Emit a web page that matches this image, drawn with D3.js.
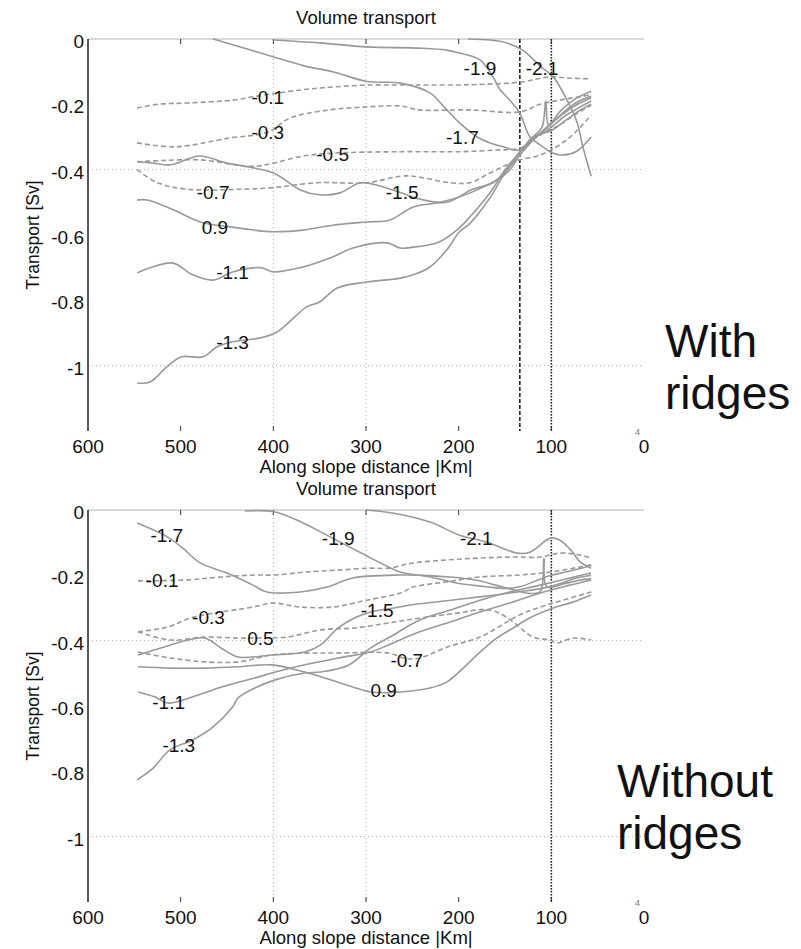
<!DOCTYPE html>
<html>
<head>
<meta charset="utf-8">
<script src="https://cdn.jsdelivr.net/npm/d3@7"></script>
<style>
  body { margin: 0; background: #fff; }
  svg { display: block; }
  text { font-family: "Liberation Sans", Arial, Helvetica, sans-serif; fill: #111; }
</style>
</head>
<body>
<svg id="chart" width="801" height="949"></svg>
<script>
// axis ticks
xTicks = [600, 500, 400, 300, 200, 100, 0];
yTicks = [0, -0.2, -0.4, -0.6, -0.8, -1];
yTickLabels = ["0", "-0.2", "-0.4", "-0.6", "-0.8", "-1"];
xGrid = [400, 300, 100];
yGrid = [-0.4, -1];

// ---- with ridges: [km, Sv]
top01 = [[547,-0.211],[522,-0.199],[493,-0.196],[443,-0.187],[422,-0.177],[371,-0.156],[336,-0.147],[299,-0.141],[263,-0.141],[242,-0.141],[188,-0.140],[134,-0.132],[101,-0.116],[80,-0.12],[57,-0.122]];
top03 = [[547,-0.318],[506,-0.33],[447,-0.303],[406,-0.285],[382,-0.242],[339,-0.217],[300,-0.208],[263,-0.205],[242,-0.217],[188,-0.217],[134,-0.223],[112,-0.20],[91,-0.187],[57,-0.171]];
top05 = [[547,-0.376],[520,-0.372],[479,-0.37],[422,-0.39],[400,-0.38],[371,-0.36],[339,-0.35],[263,-0.345],[200,-0.345],[160,-0.34],[134,-0.334],[112,-0.294],[91,-0.263],[75,-0.233],[57,-0.202]];
top07 = [[547,-0.40],[525,-0.44],[493,-0.46],[436,-0.46],[400,-0.455],[353,-0.44],[299,-0.44],[263,-0.42],[249,-0.42],[209,-0.44],[188,-0.44],[166,-0.41],[148,-0.385],[134,-0.37],[112,-0.355],[91,-0.324],[75,-0.288],[57,-0.233]];
top09 = [[547,-0.493],[536,-0.493],[508,-0.523],[479,-0.56],[447,-0.575],[400,-0.59],[368,-0.585],[336,-0.57],[299,-0.56],[274,-0.554],[249,-0.514],[220,-0.50],[185,-0.468],[148,-0.41],[134,-0.355],[120,-0.31],[105,-0.27],[90,-0.235],[75,-0.205],[57,-0.18]];
top11 = [[547,-0.716],[533,-0.70],[508,-0.686],[487,-0.722],[465,-0.738],[444,-0.713],[414,-0.70],[400,-0.713],[371,-0.70],[336,-0.667],[314,-0.64],[277,-0.624],[263,-0.64],[249,-0.637],[223,-0.624],[202,-0.585],[188,-0.545],[166,-0.47],[150,-0.40],[134,-0.346],[120,-0.30],[110,-0.27],[106,-0.19],[103,-0.262],[90,-0.22],[75,-0.185],[57,-0.16]];
top13 = [[547,-1.053],[533,-1.05],[515,-1.004],[499,-0.973],[476,-0.973],[461,-0.943],[444,-0.927],[414,-0.915],[396,-0.897],[364,-0.82],[350,-0.805],[331,-0.762],[299,-0.744],[263,-0.732],[249,-0.722],[231,-0.698],[213,-0.646],[199,-0.59],[188,-0.565],[166,-0.485],[150,-0.41],[134,-0.355],[120,-0.31],[100,-0.26],[85,-0.22],[70,-0.19],[57,-0.175]];
top15 = [[547,-0.375],[530,-0.38],[510,-0.385],[480,-0.358],[450,-0.38],[400,-0.41],[371,-0.462],[350,-0.477],[328,-0.471],[306,-0.44],[285,-0.45],[263,-0.47],[242,-0.49],[213,-0.50],[185,-0.46],[163,-0.44],[148,-0.40],[134,-0.346],[120,-0.305],[100,-0.27],[85,-0.235],[70,-0.21],[57,-0.19]];
top17 = [[465,0],[431,-0.028],[396,-0.058],[366,-0.083],[336,-0.10],[299,-0.13],[263,-0.135],[231,-0.165],[215,-0.21],[199,-0.257],[180,-0.30],[166,-0.318],[152,-0.33],[134,-0.34],[120,-0.30],[100,-0.28],[85,-0.25],[70,-0.22],[57,-0.2]];
top19 = [[400,-0.003],[350,-0.012],[299,-0.024],[242,-0.028],[213,-0.034],[199,-0.043],[177,-0.064],[163,-0.116],[155,-0.156],[145,-0.187],[134,-0.227],[123,-0.30],[112,-0.324],[101,-0.346],[91,-0.355],[74,-0.346],[57,-0.30]];
top21 = [[190,0],[166,-0.003],[148,-0.012],[131,-0.034],[112,-0.083],[98,-0.116],[83,-0.187],[72,-0.257],[66,-0.33],[57,-0.42]];

topLabels = [["-0.1",406,-0.178],["-0.3",406,-0.285],["-0.5",336,-0.352],["-0.7",465,-0.468],["0.9",463,-0.575],
  ["-1.1",444,-0.713],["-1.3",444,-0.927],["-1.5",261,-0.468],["-1.7",196,-0.30],["-1.9",177,-0.09],["-2.1",110,-0.09]];

// ---- without ridges
bot01 = [[546,-0.217],[492,-0.214],[456,-0.205],[420,-0.199],[398,-0.199],[366,-0.19],[330,-0.184],[298,-0.178],[276,-0.178],[249,-0.162],[213,-0.153],[177,-0.147],[141,-0.144],[112,-0.144],[91,-0.132],[69,-0.138],[57,-0.147]];
bot03 = [[546,-0.373],[514,-0.358],[486,-0.328],[422,-0.297],[400,-0.285],[371,-0.297],[336,-0.297],[299,-0.276],[263,-0.254],[249,-0.236],[213,-0.22],[177,-0.205],[134,-0.199],[101,-0.19],[57,-0.168]];
bot05 = [[546,-0.373],[511,-0.398],[474,-0.389],[438,-0.392],[415,-0.392],[385,-0.389],[349,-0.367],[312,-0.361],[276,-0.346],[240,-0.33],[200,-0.315],[175,-0.305],[159,-0.312],[141,-0.343],[120,-0.389],[101,-0.398],[94,-0.407],[77,-0.392],[57,-0.398]];
bot07 = [[546,-0.435],[511,-0.453],[474,-0.465],[438,-0.465],[402,-0.444],[366,-0.438],[330,-0.438],[276,-0.438],[256,-0.455],[242,-0.453],[213,-0.42],[177,-0.389],[134,-0.321],[105,-0.291],[57,-0.251]];
bot09 = [[546,-0.48],[511,-0.484],[474,-0.484],[438,-0.48],[402,-0.474],[366,-0.496],[330,-0.527],[295,-0.557],[263,-0.557],[231,-0.545],[213,-0.527],[195,-0.484],[177,-0.435],[159,-0.392],[141,-0.361],[123,-0.33],[98,-0.30],[77,-0.282],[57,-0.26]];
bot11 = [[546,-0.557],[528,-0.572],[514,-0.591],[481,-0.566],[456,-0.542],[420,-0.514],[398,-0.496],[366,-0.474],[330,-0.453],[295,-0.435],[276,-0.413],[242,-0.373],[209,-0.343],[177,-0.312],[145,-0.285],[112,-0.254],[80,-0.23],[57,-0.214]];
bot13 = [[547,-0.826],[530,-0.791],[512,-0.735],[487,-0.704],[465,-0.664],[444,-0.603],[438,-0.575],[420,-0.545],[398,-0.52],[366,-0.499],[349,-0.496],[319,-0.475],[295,-0.422],[276,-0.392],[242,-0.337],[209,-0.306],[177,-0.276],[145,-0.251],[112,-0.23],[80,-0.208],[57,-0.193]];
bot15 = [[546,-0.444],[511,-0.413],[492,-0.398],[474,-0.392],[456,-0.423],[438,-0.45],[402,-0.444],[366,-0.435],[349,-0.413],[330,-0.361],[312,-0.33],[295,-0.312],[270,-0.30],[250,-0.29],[220,-0.28],[190,-0.27],[160,-0.26],[134,-0.25],[110,-0.24],[90,-0.225],[75,-0.21],[57,-0.2]];
bot17 = [[547,-0.04],[514,-0.083],[498,-0.116],[479,-0.162],[450,-0.193],[422,-0.23],[407,-0.251],[371,-0.251],[342,-0.236],[314,-0.208],[263,-0.199],[240,-0.2],[210,-0.205],[180,-0.215],[160,-0.23],[140,-0.245],[125,-0.255],[112,-0.25],[108,-0.147],[105,-0.235],[85,-0.225],[70,-0.215],[57,-0.21]];
bot19 = [[431,-0.003],[398,-0.006],[370,-0.037],[349,-0.067],[301,-0.138],[276,-0.174],[263,-0.19],[231,-0.205],[199,-0.225],[170,-0.235],[150,-0.24],[134,-0.235],[115,-0.215],[100,-0.2],[85,-0.19],[70,-0.18],[57,-0.17]];
bot21 = [[300,0],[270,-0.01],[231,-0.037],[199,-0.077],[170,-0.098],[137,-0.132],[123,-0.129],[101,-0.086],[91,-0.092],[77,-0.129],[69,-0.159],[57,-0.178]];

botLabels = [["-1.7",515,-0.077],["-1.9",330,-0.086],["-2.1",181,-0.086],["-0.1",520,-0.214],["-0.3",470,-0.328],
  ["0.5",414,-0.392],["-1.5",288,-0.306],["-0.7",256,-0.459],["0.9",281,-0.551],["-1.1",513,-0.588],["-1.3",502,-0.719]];

let svg = d3.select("#chart");

let left = 88, right = 644, plotH = 392;

let xScale = d3.scaleLinear().domain([600, 0]).range([left, right]);

function drawPanel(y0, solid, dashed, labels, vlines, sideText, sideX, sideY) {
  let yScale = d3.scaleLinear().domain([0, -1.2]).range([y0, y0 + plotH]);
  let g = svg.append("g");

  g.append("text")
    .attr("x", (left + right) / 2).attr("y", y0 - 15)
    .attr("text-anchor", "middle").style("font-size", "18.5px")
    .text("Volume transport");

  // grid
  g.selectAll(".vgrid").data(xGrid).enter().append("line")
    .attr("x1", d => xScale(d)).attr("x2", d => xScale(d))
    .attr("y1", y0).attr("y2", y0 + plotH)
    .attr("stroke", "#aaa").attr("stroke-dasharray", "1,3");
  g.selectAll(".hgrid").data(yGrid).enter().append("line")
    .attr("x1", left).attr("x2", right)
    .attr("y1", d => yScale(d)).attr("y2", d => yScale(d))
    .attr("stroke", "#aaa").attr("stroke-dasharray", "1,3");

  // frame: left axis dark, top edge light
  g.append("line").attr("x1", left).attr("x2", right).attr("y1", y0).attr("y2", y0)
    .attr("stroke", "#ccc").attr("stroke-width", 1.5);
  g.append("line").attr("x1", left).attr("x2", left).attr("y1", y0).attr("y2", y0 + plotH)
    .attr("stroke", "#222").attr("stroke-width", 1.5);

  // x ticks top & bottom
  g.selectAll(".xt").data(xTicks.slice(1, -1)).enter().append("path")
    .attr("d", d => "M" + xScale(d) + "," + y0 + "v5M" + xScale(d) + "," + (y0 + plotH) + "v-5")
    .attr("stroke", "#333").attr("stroke-width", 1);

  // tick labels
  g.selectAll(".xl").data(xTicks).enter().append("text")
    .attr("x", d => xScale(d)).attr("y", y0 + plotH + 22)
    .attr("text-anchor", "middle").style("font-size", "19px")
    .text(d => d);
  g.selectAll(".yl").data(yTicks).enter().append("text")
    .attr("x", left - 4).attr("y", d => yScale(d) + 9)
    .attr("text-anchor", "end").style("font-size", "19px")
    .text((d, i) => yTickLabels[i]);

  g.append("text").attr("x", xScale(7)).attr("y", y0 + plotH + 4)
    .attr("text-anchor", "middle").style("font-size", "9px").style("fill", "#777").text("4");

  g.append("text")
    .attr("x", (left + right) / 2).attr("y", y0 + plotH + 42)
    .attr("text-anchor", "middle").style("font-size", "18.5px")
    .text("Along slope distance |Km|");

  g.append("text")
    .attr("transform", "translate(39," + (y0 + plotH * 0.5) + ") rotate(-90)")
    .attr("text-anchor", "middle").style("font-size", "17.5px")
    .text("Transport [Sv]");

  // reference verticals
  vlines.forEach(v => {
    g.append("line")
      .attr("x1", xScale(v[0])).attr("x2", xScale(v[0]))
      .attr("y1", y0).attr("y2", y0 + plotH)
      .attr("stroke", "#222").attr("stroke-width", 1.6)
      .attr("stroke-dasharray", v[1]);
  });

  let line = d3.line()
    .x(d => xScale(d[0]))
    .y(d => yScale(d[1]))
    .curve(d3.curveCatmullRom.alpha(0.5));

  solid.forEach(s => {
    g.append("path").datum(s).attr("d", line)
      .attr("fill", "none").attr("stroke", "#999").attr("stroke-width", 1.6);
  });
  dashed.forEach(s => {
    g.append("path").datum(s).attr("d", line)
      .attr("fill", "none").attr("stroke", "#999").attr("stroke-width", 1.6)
      .attr("stroke-dasharray", "5,3");
  });

  g.selectAll(".lab").data(labels).enter().append("text")
    .attr("x", d => xScale(d[1])).attr("y", d => yScale(d[2]) + 7)
    .attr("text-anchor", "middle").style("font-size", "19px")
    .text(d => d[0]);

  sideText.forEach((t, i) => {
    g.append("text").attr("x", sideX).attr("y", sideY + i * 52)
      .style("font-size", "46px").text(t);
  });
}

drawPanel(39, [top09, top11, top13, top15, top17, top19, top21], [top01, top03, top05, top07],
  topLabels, [[134, "4,2"], [100, "1.5,1.5"]], ["With", "ridges"], 665, 357);
drawPanel(510, [bot09, bot11, bot13, bot15, bot17, bot19, bot21], [bot01, bot03, bot05, bot07],
  botLabels, [[100, "1.5,1.5"]], ["Without", "ridges"], 617, 797);
</script>
</body>
</html>
